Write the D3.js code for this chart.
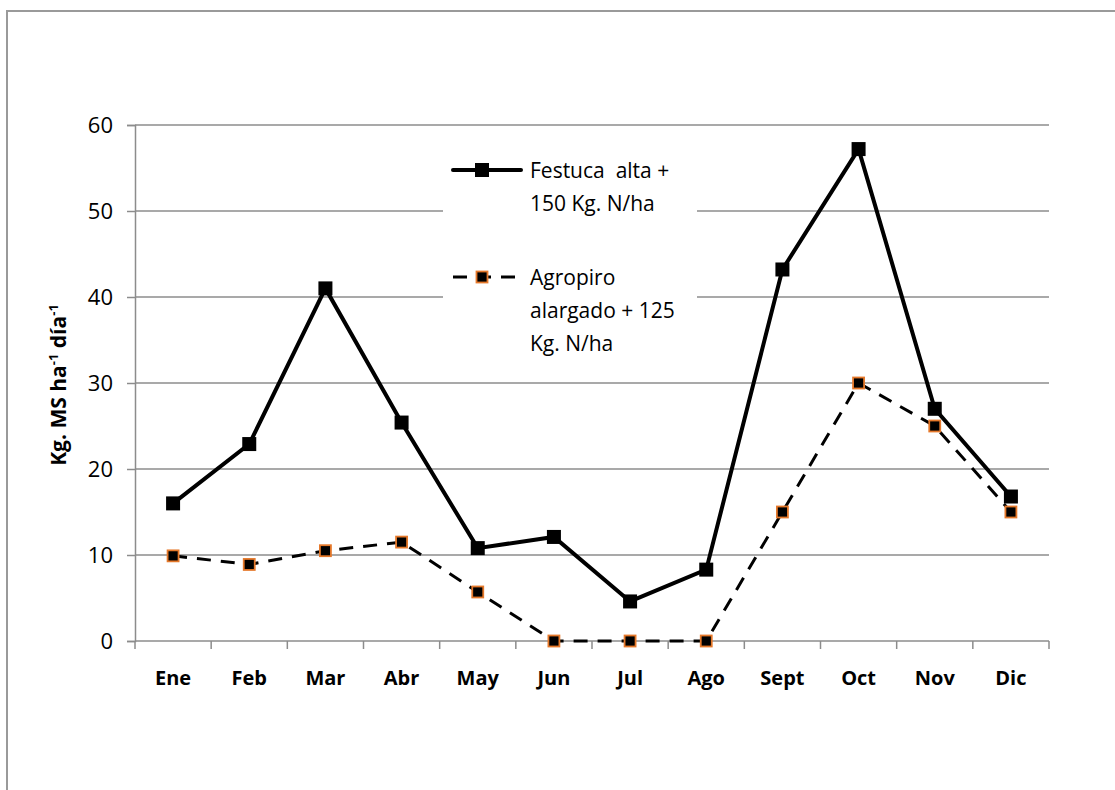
<!DOCTYPE html>
<html>
<head>
<meta charset="utf-8">
<script src="https://cdn.jsdelivr.net/npm/d3@7"></script>
<style>
  html, body { margin: 0; padding: 0; background: #fff; }
  svg { display: block; }
</style>
</head>
<body>
<script>
// Monthly growth rates (kg dry matter per ha per day)
const months = ["Ene", "Feb", "Mar", "Abr", "May", "Jun", "Jul", "Ago", "Sept", "Oct", "Nov", "Dic"];
const festuca = [16.0, 22.9, 41.0, 25.4, 10.8, 12.1, 4.6, 8.3, 43.2, 57.2, 27.0, 16.8];
const agropiro = [9.9, 8.9, 10.5, 11.5, 5.7, 0, 0, 0, 15.0, 30.0, 25.0, 15.0];
const yTicks = [0, 10, 20, 30, 40, 50, 60];
const seriesNames = ["Festuca  alta +|150 Kg. N/ha", "Agropiro|alargado + 125|Kg. N/ha"];

const W = 1115, H = 790;
const font = "'Open Sans', 'Liberation Sans', sans-serif";

const svg = d3.select("body").append("svg")
  .attr("width", W).attr("height", H);

// outer chart frame
svg.append("rect")
  .attr("x", 7).attr("y", 11)
  .attr("width", W + 20).attr("height", H + 20)
  .attr("fill", "#fff").attr("stroke", "#9a9a9a").attr("stroke-width", 2);

const plotL = 135, plotR = 1049, plotT = 125, plotB = 641;

const x = d3.scaleBand().domain(months).range([plotL, plotR]).padding(0);
const y = d3.scaleLinear().domain([0, 60]).range([plotB, plotT]);

// horizontal gridlines
svg.append("g").selectAll("line")
  .data(yTicks.filter(d => d > 0))
  .join("line")
  .attr("x1", plotL).attr("x2", plotR)
  .attr("y1", d => y(d)).attr("y2", d => y(d))
  .attr("stroke", "#8c8c8c").attr("stroke-width", 1.5);

// y axis
const yAxis = svg.append("g")
  .attr("transform", `translate(${plotL},0)`)
  .call(d3.axisLeft(y).tickValues(yTicks).tickSize(8).tickPadding(14));
yAxis.select(".domain").attr("stroke", "#8c8c8c").attr("stroke-width", 1.5);
yAxis.selectAll(".tick line").attr("stroke", "#8c8c8c").attr("stroke-width", 1.5);
yAxis.selectAll(".tick text")
  .attr("font-family", font).attr("font-size", 22).attr("fill", "#000");

// x axis with ticks on category boundaries
const xAxisG = svg.append("g").attr("transform", `translate(0,${plotB})`);
xAxisG.append("line")
  .attr("x1", plotL).attr("x2", plotR).attr("y1", 0).attr("y2", 0)
  .attr("stroke", "#8c8c8c").attr("stroke-width", 1.5);
const bounds = months.map(m => x(m)).concat([plotR]);
xAxisG.selectAll("line.tk")
  .data(bounds)
  .join("line")
  .attr("class", "tk")
  .attr("x1", d => d).attr("x2", d => d)
  .attr("y1", 0).attr("y2", 8)
  .attr("stroke", "#8c8c8c").attr("stroke-width", 1.5);
xAxisG.selectAll("text")
  .data(months)
  .join("text")
  .attr("x", d => x(d) + x.bandwidth() / 2)
  .attr("y", 44)
  .attr("text-anchor", "middle")
  .attr("font-family", font).attr("font-size", 20).attr("font-weight", "bold")
  .text(d => d);

// y axis title
const yTitle = svg.append("text")
  .attr("transform", "translate(66,385) rotate(-90)")
  .attr("text-anchor", "middle")
  .attr("font-family", font).attr("font-size", 21).attr("font-weight", "bold");
yTitle.append("tspan").text("Kg. MS ha");
yTitle.append("tspan").attr("dy", -8).attr("font-size", 13).text("-1");
yTitle.append("tspan").attr("dy", 8).text(" día");
yTitle.append("tspan").attr("dy", -8).attr("font-size", 13).text("-1");

const cx = (d, i) => x(months[i]) + x.bandwidth() / 2;
const line = d3.line().x((d, i) => cx(d, i)).y(d => y(d));

// legend background
const legend = svg.append("g");
legend.append("rect")
  .attr("x", 443).attr("y", 142).attr("width", 254).attr("height", 215)
  .attr("fill", "#fff");

// Agropiro series (dashed)
svg.append("path")
  .datum(agropiro)
  .attr("d", line)
  .attr("fill", "none").attr("stroke", "#000").attr("stroke-width", 3)
  .attr("stroke-dasharray", "14,10");
svg.append("g").selectAll("rect")
  .data(agropiro)
  .join("rect")
  .attr("x", (d, i) => cx(d, i) - 5.5).attr("y", d => y(d) - 5.5)
  .attr("width", 11).attr("height", 11)
  .attr("fill", "#000").attr("stroke", "#e5782a").attr("stroke-width", 1.8);

// Festuca series (solid)
svg.append("path")
  .datum(festuca)
  .attr("d", line)
  .attr("fill", "none").attr("stroke", "#000").attr("stroke-width", 4)
  .attr("stroke-linejoin", "miter");
svg.append("g").selectAll("rect")
  .data(festuca)
  .join("rect")
  .attr("x", (d, i) => cx(d, i) - 7).attr("y", d => y(d) - 7)
  .attr("width", 14).attr("height", 14)
  .attr("fill", "#000");

// legend entries
const lx1 = 453, lx2 = 521, lmx = 482, tx = 530;
// Festuca entry
legend.append("line")
  .attr("x1", lx1).attr("x2", lx2).attr("y1", 170).attr("y2", 170)
  .attr("stroke", "#000").attr("stroke-width", 4).attr("stroke-linecap", "round");
legend.append("rect")
  .attr("x", lmx - 7).attr("y", 163).attr("width", 14).attr("height", 14)
  .attr("fill", "#000");
seriesNames[0].split("|").forEach((t, k) => {
  legend.append("text")
    .attr("x", tx).attr("y", 178 + k * 33)
    .attr("font-family", font).attr("font-size", 21)
    .attr("xml:space", "preserve").style("white-space", "pre")
    .text(t);
});
// Agropiro entry
legend.append("line")
  .attr("x1", lx1).attr("x2", lx2).attr("y1", 277).attr("y2", 277)
  .attr("stroke", "#000").attr("stroke-width", 3)
  .attr("stroke-dasharray", "14,10");
legend.append("rect")
  .attr("x", lmx - 5.5).attr("y", 271.5).attr("width", 11).attr("height", 11)
  .attr("fill", "#000").attr("stroke", "#e5782a").attr("stroke-width", 1.8);
seriesNames[1].split("|").forEach((t, k) => {
  legend.append("text")
    .attr("x", tx).attr("y", 285 + k * 33)
    .attr("font-family", font).attr("font-size", 21)
    .text(t);
});
</script>
</body>
</html>
